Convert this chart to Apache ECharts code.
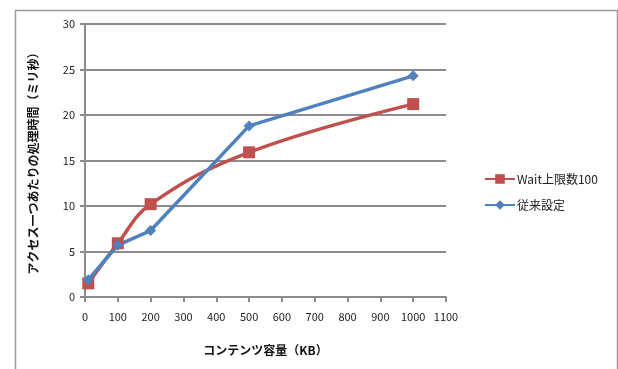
<!DOCTYPE html>
<html>
<head>
<meta charset="utf-8">
<script src="https://cdn.jsdelivr.net/npm/echarts@6/dist/echarts.min.js"></script>
<style>
  html, body { margin: 0; padding: 0; background: #fff; }
  #chart { width: 618px; height: 369px; }
</style>
</head>
<body>
<div id="chart"></div>
<script>
// content size (KB) and processing time (ms) per access
const waitSizes = [10, 100, 200, 500, 1000];
const waitTimes = [1.5, 5.9, 10.2, 15.9, 21.2];
const legacySizes = [10, 100, 200, 500, 1000];
const legacyTimes = [1.9, 5.7, 7.3, 18.8, 24.3];
const seriesNames = ['Wait上限数100', '従来設定'];

const pairs = (xs, ys) => xs.map((x, i) => [x, ys[i]]);

const chart = echarts.init(document.getElementById('chart'));
const jpFont = '"Noto Sans CJK JP", sans-serif';
const gridColor = '#8c8c8c';

chart.setOption({
  animation: false,
  textStyle: { fontFamily: jpFont },
  graphic: [{
    type: 'rect',
    left: 13, top: 8,
    shape: { width: 602, height: 380 },
    style: { fill: 'none', stroke: '#9a9a9a', lineWidth: 1.5 }
  }],
  grid: { left: 85, top: 24, width: 361, height: 273 },
  legend: {
    orient: 'vertical',
    left: 479, top: 168,
    itemWidth: 30, itemHeight: 12, itemGap: 14,
    textStyle: { fontSize: 12, color: '#222', fontFamily: jpFont, padding: [0, 0, 0, -3] },
    data: seriesNames
  },
  xAxis: {
    type: 'value',
    min: 0, max: 1100, interval: 100,
    name: 'コンテンツ容量（KB）',
    nameLocation: 'middle', nameGap: 47,
    nameTextStyle: { fontSize: 12, fontWeight: 'bold', color: '#111' },
    axisLine: { show: true, lineStyle: { color: gridColor, width: 2 } },
    axisTick: { show: true, length: 5, lineStyle: { color: gridColor, width: 2 } },
    axisLabel: { fontSize: 11, color: '#222', margin: 14, formatter: v => String(v) },
    splitLine: { show: false }
  },
  yAxis: {
    type: 'value',
    min: 0, max: 30, interval: 5,
    name: 'アクセス一つあたりの処理時間（ミリ秒）',
    nameLocation: 'middle', nameGap: 46,
    nameTextStyle: { fontSize: 12, fontWeight: 'bold', color: '#111' },
    axisLine: { show: true, lineStyle: { color: gridColor, width: 2 } },
    axisTick: { show: true, length: 5, lineStyle: { color: gridColor, width: 2 } },
    axisLabel: { fontSize: 11, color: '#222', margin: 10 },
    splitLine: { show: true, lineStyle: { color: gridColor, width: 2 } }
  },
  series: [
    {
      name: seriesNames[0],
      type: 'line',
      smooth: 0.4,
      data: pairs(waitSizes, waitTimes),
      symbol: 'rect', symbolSize: 12,
      lineStyle: { color: '#c0504d', width: 3.5 },
      itemStyle: { color: '#c0504d' }
    },
    {
      name: seriesNames[1],
      type: 'line',
      data: pairs(legacySizes, legacyTimes),
      symbol: 'diamond', symbolSize: 11,
      lineStyle: { color: '#4f81bd', width: 3.5 },
      itemStyle: { color: '#4f81bd' }
    }
  ]
});
</script>
</body>
</html>
